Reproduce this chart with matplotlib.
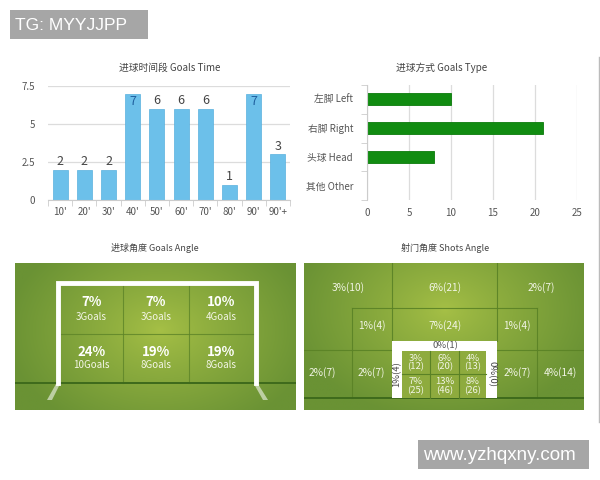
import numpy as np
import matplotlib
matplotlib.use('Agg')
import matplotlib.pyplot as plt
from matplotlib.patches import Rectangle, Polygon

plt.rcParams['font.family'] = ['Noto Sans CJK SC', 'DejaVu Sans']

# ---------------- data ----------------
time_labels = ["10'", "20'", "30'", "40'", "50'", "60'", "70'", "80'", "90'", "90'+"]
time_goals = [2, 2, 2, 7, 6, 6, 6, 1, 7, 3]

type_labels = ["左脚 Left", "右脚 Right", "头球 Head", "其他 Other"]
type_goals = [10, 21, 8, 0]

angle_pct = [[7, 7, 10], [24, 19, 19]]
angle_goals = [[3, 3, 4], [10, 8, 8]]

shots_outer_pct = [3, 6, 2, 1, 7, 1, 2, 2, 2, 4]
shots_outer_n = [10, 21, 7, 4, 24, 4, 7, 7, 7, 14]
shots_inner_pct = [[3, 6, 4], [7, 13, 8]]
shots_inner_n = [[12, 20, 13], [25, 46, 26]]
shots_top_pct, shots_top_n = 0, 1
shots_left_pct, shots_left_n = 1, 4
shots_right_pct, shots_right_n = 0, 0

W, H = 600, 480
fig = plt.figure(figsize=(6, 4.8), dpi=100)
fig.patch.set_facecolor('white')


def px_axes(x0, y0, x1, y1, **kw):
    return fig.add_axes([x0 / W, 1 - y1 / H, (x1 - x0) / W, (y1 - y0) / H], **kw)


TXT = '#444444'
GRID = '#dcdcdc'

# ---------------- Goals Time ----------------
ax1 = px_axes(48, 86, 290, 200)
xs = np.arange(len(time_goals))
ax1.bar(xs, time_goals, width=0.62, color='#6cc0ea', edgecolor='#58b0de', lw=0.5, zorder=2)
ax1.set_xlim(-0.5, len(time_goals) - 0.5)
ax1.set_ylim(0, 7.5)
ax1.set_yticks([0, 2.5, 5, 7.5])
ax1.set_yticklabels(['0', '2.5', '5', '7.5'])
ax1.grid(axis='y', color=GRID, lw=0.9, zorder=0)
for s in ['top', 'right', 'left']:
    ax1.spines[s].set_visible(False)
ax1.spines['bottom'].set_color('#cccccc')
ax1.set_xticks(xs)
ax1.set_xticklabels(time_labels)
ax1.set_xticks(np.arange(-0.5, len(time_goals)), minor=True)
ax1.tick_params(axis='x', which='major', length=0, pad=5, labelsize=7, labelcolor='#555555')
ax1.tick_params(axis='x', which='minor', length=4, color='#cccccc')
ax1.tick_params(axis='y', length=0, pad=9, labelsize=7, labelcolor='#555555')
for i, v in enumerate(time_goals):
    if v >= 7:
        ax1.text(i, v - 0.12, str(v), ha='center', va='top', fontsize=9, color='#1f5f9e', zorder=3)
    else:
        ax1.text(i, v + 0.1, str(v), ha='center', va='bottom', fontsize=9, color='#444444', zorder=3)
fig.text(170 / W, 1 - 68 / H, '进球时间段 Goals Time', ha='center', va='center', fontsize=7, color=TXT)

# ---------------- Goals Type ----------------
ax2 = px_axes(367, 85, 577, 200)
ys = np.arange(len(type_goals))
ax2.barh(ys, type_goals, height=0.42, color='#118c11', edgecolor='#0b7a0b', lw=0.6, zorder=2)
ax2.set_xlim(0, 25)
ax2.set_ylim(len(type_goals) - 0.5, -0.5)
ax2.set_xticks([0, 5, 10, 15, 20, 25])
ax2.grid(axis='x', color=GRID, lw=0.9, zorder=0)
for s in ['top', 'right', 'bottom']:
    ax2.spines[s].set_visible(False)
ax2.spines['left'].set_color('#cccccc')
ax2.set_yticks(ys)
ax2.set_yticklabels(type_labels)
ax2.set_yticks(np.arange(-0.5, len(type_goals)), minor=True)
ax2.tick_params(axis='y', which='major', length=0, pad=10, labelsize=7, labelcolor='#555555')
ax2.tick_params(axis='y', which='minor', length=4, color='#cccccc')
ax2.tick_params(axis='x', length=0, pad=6, labelsize=7, labelcolor='#555555')
fig.text(442 / W, 1 - 68 / H, '进球方式 Goals Type', ha='center', va='center', fontsize=7, color=TXT)

# ---------------- pitch helper ----------------
C_CENTER = np.array([166, 192, 70]) / 255
C_EDGE = np.array([106, 146, 52]) / 255


def pitch(ax, x0, y0, x1, y1, cx, cy):
    gx = np.linspace(x0, x1, 320)
    gy = np.linspace(y0, y1, 180)
    X, Y = np.meshgrid(gx, gy)
    d = np.sqrt(((X - cx) / ((x1 - x0) * 0.55)) ** 2 + ((Y - cy) / ((y1 - y0) * 0.75)) ** 2)
    t = np.clip(d, 0, 1) ** 0.85
    img = C_CENTER * (1 - t)[..., None] + C_EDGE * t[..., None]
    ax.imshow(img, extent=(x0, x1, y1, y0), aspect='auto', zorder=0, interpolation='bilinear')
    ax.set_xlim(x0, x1)
    ax.set_ylim(y1, y0)
    ax.axis('off')


# ---------------- Goals Angle ----------------
gx0, gy0, gx1, gy1 = 15, 263, 296, 410
ax3 = px_axes(gx0, gy0, gx1, gy1)
pitch(ax3, gx0, gy0, gx1, gy1, 160, 330)
cell_x = [60, 123, 189, 254]
cell_y = [285, 334, 383]
for r in range(2):
    for c in range(3):
        cx = (cell_x[c] + cell_x[c + 1]) / 2
        cy = (cell_y[r] + cell_y[r + 1]) / 2
        ax3.text(cx, cy - 7, f"{angle_pct[r][c]}%", ha='center', va='center', fontsize=9.5,
                 fontweight='bold', color='white', zorder=5)
        ax3.text(cx, cy + 7, f"{angle_goals[r][c]}Goals", ha='center', va='center', fontsize=7,
                 color='#f4f6e8', zorder=5)
for xv in cell_x[1:-1]:
    ax3.plot([xv, xv], [cell_y[0], cell_y[-1]], color='#5d8428', lw=0.8, alpha=0.8, zorder=2)
ax3.plot([cell_x[0], cell_x[-1]], [cell_y[1], cell_y[1]], color='#5d8428', lw=0.8, alpha=0.8, zorder=2)
ax3.plot([gx0, gx1], [383, 383], color='#3e6a1c', lw=1.4, zorder=3)
ax3.plot([58, 58, 256, 256], [383, 283, 283, 383], color='white', lw=3.5,
         solid_joinstyle='miter', zorder=4)
ax3.add_patch(Polygon([[56, 384], [60, 384], [52, 400], [47, 400]], closed=True,
                      facecolor='white', alpha=0.55, lw=0, zorder=3))
ax3.add_patch(Polygon([[254, 384], [258, 384], [268, 400], [263, 400]], closed=True,
                      facecolor='white', alpha=0.55, lw=0, zorder=3))
fig.text(155 / W, 1 - 248 / H, '进球角度 Goals Angle', ha='center', va='center', fontsize=6.5, color=TXT)

# ---------------- Shots Angle ----------------
sx0, sy0, sx1, sy1 = 304, 263, 584, 410
ax4 = px_axes(sx0, sy0, sx1, sy1)
pitch(ax4, sx0, sy0, sx1, sy1, 445, 310)
LINE = '#5a8226'
segs = [
    ([352, 537], [308, 308]),
    ([304, 392], [350, 350]),
    ([497, 584], [350, 350]),
    ([392, 392], [263, 341]),
    ([497, 497], [263, 341]),
    ([352, 352], [308, 398]),
    ([537, 537], [308, 398]),
]
for xx, yy in segs:
    ax4.plot(xx, yy, color=LINE, lw=0.8, alpha=0.9, zorder=2)
ax4.plot([sx0, sx1], [398, 398], color='#3e6a1c', lw=1.4, zorder=3)

outer_pos = [(348, 288), (445, 288), (541, 288),
             (372, 326), (445, 326), (517, 326),
             (322, 373), (371, 373), (517, 373), (560, 373)]
for (px, py), p, n in zip(outer_pos, shots_outer_pct, shots_outer_n):
    ax4.text(px, py, f"{p}%({n})", ha='center', va='center', fontsize=7.3,
             color='#f2f5e6', zorder=5)

ax4.add_patch(Rectangle((392, 341), 105, 57, facecolor='white', edgecolor='none', zorder=3))
ax4.add_patch(Rectangle((402, 351), 84, 47, facecolor='#8eab3e', edgecolor='none', zorder=4))
in_x = [402, 430, 459, 486]
in_y = [351, 374, 398]
for xv in in_x[1:-1]:
    ax4.plot([xv, xv], [351, 398], color=LINE, lw=0.8, zorder=5)
ax4.plot([402, 486], [374, 374], color=LINE, lw=0.8, zorder=5)
for r in range(2):
    for c in range(3):
        cx = (in_x[c] + in_x[c + 1]) / 2
        cy = (in_y[r] + in_y[r + 1]) / 2
        ax4.text(cx, cy, f"{shots_inner_pct[r][c]}%\n({shots_inner_n[r][c]})", ha='center',
                 va='center', fontsize=6.8, color='#f2f5e6', linespacing=0.95, zorder=6)
ax4.text(445, 345.5, f"{shots_top_pct}%({shots_top_n})", ha='center', va='center', fontsize=6.8,
         color='#555555', zorder=6)
ax4.text(397, 374, f"{shots_left_pct}%({shots_left_n})", ha='center', va='center', fontsize=6.8,
         color='#444444', rotation=90, zorder=6)
ax4.text(492, 374, f"{shots_right_pct}%({shots_right_n})", ha='center', va='center', fontsize=6.8,
         color='#444444', rotation=-90, zorder=6)
fig.text(445 / W, 1 - 248 / H, '射门角度 Shots Angle', ha='center', va='center', fontsize=6.5, color=TXT)

# ---------------- frame line & watermarks ----------------
ov = fig.add_axes([0, 0, 1, 1], zorder=10)
ov.set_xlim(0, W)
ov.set_ylim(H, 0)
ov.axis('off')
ov.patch.set_alpha(0)
ov.plot([599, 599], [57, 422], color='#bbbbbb', lw=1)
ov.add_patch(Rectangle((10, 10), 138, 29, facecolor='#a6a6a6', edgecolor='none'))
ov.text(15, 25, 'TG: MYYJJPP', ha='left', va='center', fontsize=12.6, color='white',
        family='Liberation Sans')
ov.add_patch(Rectangle((418, 440), 171, 29, facecolor='#a6a6a6', edgecolor='none'))
ov.text(423, 455, 'www.yzhqxny.com', ha='left', va='center', fontsize=13.5, color='white',
        family='Liberation Sans')

fig.savefig('out.png', dpi=100, facecolor='white')
